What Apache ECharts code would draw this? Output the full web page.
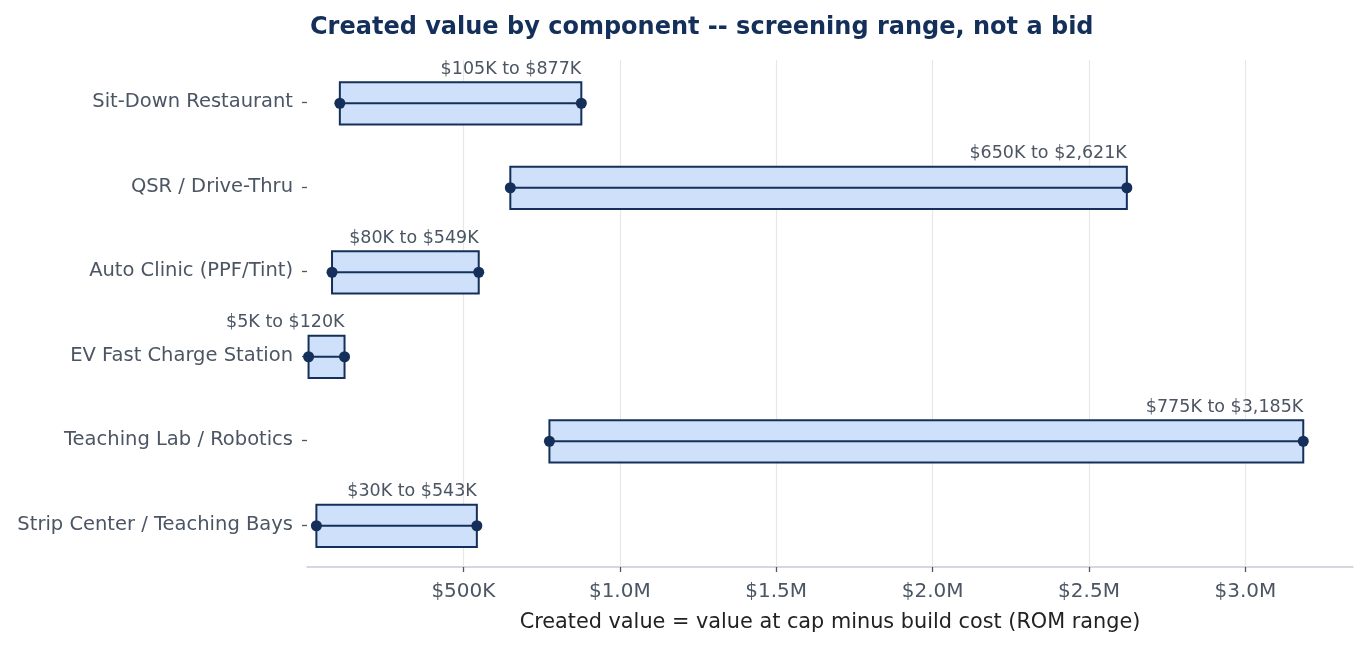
<!DOCTYPE html>
<html>
<head>
<meta charset="utf-8">
<script src="https://cdn.jsdelivr.net/npm/echarts@6/dist/echarts.min.js"></script>
<style>
  html, body { margin: 0; padding: 0; background: #fff; }
  #chart { width: 1369px; height: 645px; }
</style>
</head>
<body>
<div id="chart"></div>
<script>
// values in $K
const categories = [
  'Sit-Down Restaurant',
  'QSR / Drive-Thru',
  'Auto Clinic (PPF/Tint)',
  'EV Fast Charge Station',
  'Teaching Lab / Robotics',
  'Strip Center / Teaching Bays'
]
const lowValues = [105, 650, 80, 5, 775, 30]
const highValues = [877, 2621, 549, 120, 3185, 543]
const xTicks = [500, 1000, 1500, 2000, 2500, 3000]

const fmtK = (v) => '$' + v.toLocaleString('en-US') + 'K'

const seriesData = categories.map((c, i) => [i, lowValues[i], highValues[i]])

const navy = '#14305a'
const textGray = '#4b5563'
const font = "'DejaVu Sans', sans-serif"

const myChart = echarts.init(document.getElementById('chart'))

const option = {
  backgroundColor: '#fff',
  animation: false,
  title: {
    text: 'Created value by component -- screening range, not a bid',
    left: 305,
    top: 11,
    textStyle: {
      fontFamily: font,
      fontSize: 24,
      fontWeight: 'bold',
      color: navy,
    },
  },
  grid: {
    left: 307,
    right: 16,
    top: 60,
    bottom: 78,
    containLabel: false,
    outerBoundsMode: 'none',
  },
  xAxis: {
    type: 'value',
    min: 0,
    max: 3344,
    name: 'Created value = value at cap minus build cost (ROM range)',
    nameLocation: 'middle',
    nameGap: 45,
    nameTextStyle: {
      fontFamily: font,
      fontSize: 20.8,
      color: '#222',
    },
    axisLine: { show: true, lineStyle: { color: '#c8ccd6', width: 1.5 } },
    axisTick: { show: true, length: 5, customValues: xTicks, lineStyle: { color: '#555', width: 1.3 } },
    axisLabel: {
      fontFamily: font,
      fontSize: 20,
      color: textGray,
      margin: 15,
      customValues: xTicks,
      formatter: (v) => {
        if (v < 1000) return '$' + v + 'K'
        return '$' + (v / 1000).toFixed(1) + 'M'
      },
    },
    splitLine: { show: true, lineStyle: { color: '#e5e7eb', width: 1.2 } },
  },
  yAxis: {
    type: 'category',
    data: categories,
    inverse: true,
    axisLine: { show: false },
    axisTick: { show: true, alignWithLabel: true, length: 5, lineStyle: { color: '#555', width: 1.3 } },
    axisLabel: {
      fontFamily: font,
      fontSize: 19.5,
      color: textGray,
      margin: 14,
      padding: [5, 0, 0, 0],
    },
    splitLine: { show: false },
  },
  series: [
    {
      type: 'custom',
      clip: false,
      data: seriesData,
      encode: { x: [1, 2], y: 0 },
      renderItem: (params, api) => {
        const idx = api.value(0)
        const lo = api.value(1)
        const hi = api.value(2)
        const p1 = api.coord([lo, idx])
        const p2 = api.coord([hi, idx])
        const band = api.size([0, 1])[1]
        const h = band * 0.5
        const y = p1[1] + 1
        return {
          type: 'group',
          children: [
            {
              type: 'rect',
              shape: { x: p1[0], y: y - h / 2, width: p2[0] - p1[0], height: h },
              style: { fill: '#cfe0fb', stroke: navy, lineWidth: 2 },
            },
            {
              type: 'line',
              shape: { x1: p1[0], y1: y, x2: p2[0], y2: y },
              style: { stroke: navy, lineWidth: 2 },
            },
            {
              type: 'circle',
              shape: { cx: p1[0], cy: y, r: 5.5 },
              style: { fill: navy },
            },
            {
              type: 'circle',
              shape: { cx: p2[0], cy: y, r: 5.5 },
              style: { fill: navy },
            },
            {
              type: 'text',
              x: p2[0],
              y: y - h / 2 - 4,
              style: {
                text: fmtK(lo) + ' to ' + fmtK(hi),
                align: 'right',
                verticalAlign: 'bottom',
                fontFamily: font,
                fontSize: 17.5,
                fill: textGray,
              },
            },
          ],
        }
      },
    },
  ],
}

myChart.setOption(option)

window.addEventListener('resize', () => myChart.resize())
</script>
</body>
</html>
